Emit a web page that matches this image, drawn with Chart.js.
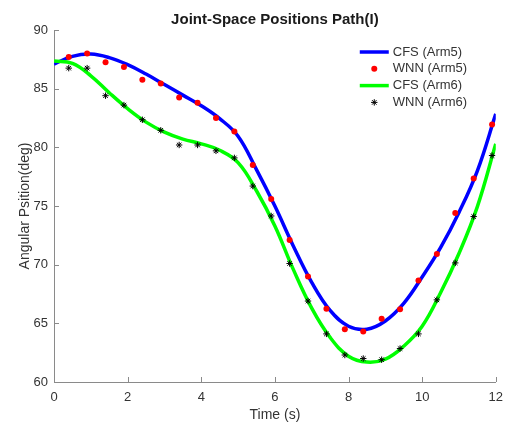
<!DOCTYPE html>
<html>
<head>
<meta charset="utf-8">
<script src="https://cdn.jsdelivr.net/npm/chart.js@4"></script>
<style>
  html, body { margin: 0; padding: 0; background: #fff; }
  #wrap { width: 511px; height: 426px; }
</style>
</head>
<body>
<div id="wrap"><canvas id="pathChart" width="511" height="426"></canvas></div>
<script>
// Data
const curveTime = [0, 0.5, 1, 1.5, 2, 2.5, 3, 3.5, 4, 4.5, 5, 5.5, 6, 6.5, 7, 7.5, 8, 8.5, 9, 9.5, 10, 10.5, 11, 11.5, 12];
const cfsArm5 = [87.1, 87.75, 87.95, 87.65, 87.05, 86.25, 85.35, 84.45, 83.55, 82.45, 80.95, 78.1, 75.0, 71.6, 68.5, 66.1, 64.75, 64.5, 65.2, 66.7, 68.95, 71.45, 74.45, 78.0, 82.85];
const cfsArm6 = [87.35, 87.15, 86.1, 84.65, 83.3, 82.15, 81.3, 80.7, 80.3, 79.75, 78.7, 76.3, 73.3, 69.6, 66.3, 63.8, 62.2, 61.7, 61.95, 63.05, 64.75, 67.6, 70.95, 74.95, 80.3];

const wnnTime = [0.4, 0.9, 1.4, 1.9, 2.4, 2.9, 3.4, 3.9, 4.4, 4.9, 5.4, 5.9, 6.4, 6.9, 7.4, 7.9, 8.4, 8.9, 9.4, 9.9, 10.4, 10.9, 11.4, 11.9];
const wnnArm5 = [87.7, 88.0, 87.25, 86.85, 85.75, 85.45, 84.25, 83.8, 82.5, 81.35, 78.5, 75.6, 72.1, 69.0, 66.25, 64.5, 64.3, 65.4, 66.2, 68.65, 70.9, 74.4, 77.35, 81.95];
const wnnArm6 = [86.75, 86.75, 84.4, 83.6, 82.35, 81.45, 80.2, 80.2, 79.7, 79.1, 76.7, 74.15, 70.1, 66.9, 64.1, 62.3, 62.0, 61.9, 62.85, 64.1, 67.0, 70.15, 74.1, 79.3];

const xTicks = [0, 2, 4, 6, 8, 10, 12];
const yTicks = [60, 65, 70, 75, 80, 85, 90];

const toPoints = (xs, ys) => xs.map((x, i) => ({ x: x, y: ys[i] }));

const FONT = "'Liberation Sans', Arial, Helvetica, sans-serif";
const AXIS_COLOR = '#8a8a8a';
const TEXT_COLOR = '#333333';
const TITLE = 'Joint-Space Positions Path(I)';

// legend drawn inside the plot, top right (MATLAB style)
const legendItems = [
  { text: 'CFS (Arm5)', kind: 'line', color: '#0000ff' },
  { text: 'WNN (Arm5)', kind: 'dot', color: '#ff0000' },
  { text: 'CFS (Arm6)', kind: 'line', color: '#00ff00' },
  { text: 'WNN (Arm6)', kind: 'star', color: '#000000' }
];

function drawStar(ctx, x, y, r) {
  ctx.beginPath();
  for (let k = 0; k < 4; k++) {
    const a = k * Math.PI / 4;
    ctx.moveTo(x - r * Math.cos(a), y - r * Math.sin(a));
    ctx.lineTo(x + r * Math.cos(a), y + r * Math.sin(a));
  }
  ctx.stroke();
}

const insidePlugin = {
  id: 'insideBits',
  afterDraw(chart) {
    const ctx = chart.ctx;
    const area = chart.chartArea;
    const xs = chart.scales.x, ys = chart.scales.y;
    ctx.save();
    // inward ticks
    ctx.strokeStyle = AXIS_COLOR;
    ctx.lineWidth = 1;
    ctx.beginPath();
    xs.ticks.forEach(t => {
      const px = Math.round(xs.getPixelForValue(t.value)) + 0.5;
      ctx.moveTo(px, area.bottom);
      ctx.lineTo(px, area.bottom - 5);
    });
    ys.ticks.forEach(t => {
      const py = Math.round(ys.getPixelForValue(t.value)) + 0.5;
      ctx.moveTo(area.left, py);
      ctx.lineTo(area.left + 5, py);
    });
    ctx.stroke();

    // title, centred over the plot area
    ctx.fillStyle = '#1a1a1a';
    ctx.font = 'bold 15px ' + FONT;
    ctx.textAlign = 'center';
    ctx.textBaseline = 'middle';
    ctx.fillText(TITLE, (area.left + area.right) / 2, area.top - 10);

    // legend
    const lx = area.right - 136;
    const tx = area.right - 103;
    let ly = area.top + 22;
    ctx.font = '13px ' + FONT;
    ctx.textAlign = 'left';
    legendItems.forEach(item => {
      if (item.kind === 'line') {
        ctx.strokeStyle = item.color;
        ctx.lineWidth = 3.5;
        ctx.beginPath();
        ctx.moveTo(lx, ly);
        ctx.lineTo(lx + 29, ly);
        ctx.stroke();
      } else if (item.kind === 'dot') {
        ctx.fillStyle = item.color;
        ctx.beginPath();
        ctx.arc(lx + 14.5, ly, 3, 0, Math.PI * 2);
        ctx.fill();
      } else {
        ctx.strokeStyle = item.color;
        ctx.lineWidth = 1;
        drawStar(ctx, lx + 14.5, ly, 3.2);
      }
      ctx.fillStyle = TEXT_COLOR;
      ctx.fillText(item.text, tx, ly);
      ly += 16.8;
    });
    ctx.restore();
  }
};

const ctx1 = document.getElementById('pathChart').getContext('2d');

const pathChart = new Chart(ctx1, {
  type: 'line',
  data: {
    datasets: [
      { label: 'CFS (Arm5)', data: toPoints(curveTime, cfsArm5), borderColor: '#0000ff', borderWidth: 3.5, pointRadius: 0, tension: 0.4, order: 4 },
      { label: 'WNN (Arm5)', data: toPoints(wnnTime, wnnArm5), showLine: false, pointStyle: 'circle', pointRadius: 3, backgroundColor: '#ff0000', borderColor: '#ff0000', borderWidth: 0, order: 1 },
      { label: 'CFS (Arm6)', data: toPoints(curveTime, cfsArm6), borderColor: '#00ff00', borderWidth: 3.5, pointRadius: 0, tension: 0.4, order: 3 },
      { label: 'WNN (Arm6)', data: toPoints(wnnTime, wnnArm6), showLine: false, pointStyle: 'star', pointRadius: 3.2, borderColor: '#000000', borderWidth: 1, order: 0 }
    ]
  },
  options: {
    responsive: false,
    animation: false,
    layout: { padding: { left: 0, right: 10, top: 30, bottom: 0 } },
    plugins: {
      legend: { display: false },
      tooltip: { enabled: false },
      title: { display: false }
    },
    scales: {
      x: {
        type: 'linear',
        min: 0, max: 12,
        afterBuildTicks: (s) => { s.ticks = xTicks.map(v => ({ value: v })); },
        afterFit: (s) => { s.height = 44; },
        grid: { display: true, drawOnChartArea: false, drawTicks: false, color: AXIS_COLOR },
        border: { display: true, color: AXIS_COLOR, width: 1 },
        ticks: { color: TEXT_COLOR, font: { family: FONT, size: 13 }, padding: 8, maxRotation: 0 },
        title: { display: true, text: 'Time (s)', color: TEXT_COLOR, font: { family: FONT, size: 14 }, padding: { top: 0, bottom: 2.6 } }
      },
      y: {
        min: 60, max: 90,
        afterBuildTicks: (s) => { s.ticks = yTicks.map(v => ({ value: v })); },
        afterFit: (s) => { s.width = 54; },
        grid: { display: true, drawOnChartArea: false, drawTicks: false, color: AXIS_COLOR },
        border: { display: true, color: AXIS_COLOR, width: 1 },
        ticks: { color: TEXT_COLOR, font: { family: FONT, size: 13 }, padding: 6 },
        title: { display: true, text: 'Angular Psition(deg)', color: TEXT_COLOR, font: { family: FONT, size: 14 }, padding: { top: 16.6, bottom: 0 } }
      }
    }
  },
  plugins: [insidePlugin]
});
</script>
</body>
</html>
